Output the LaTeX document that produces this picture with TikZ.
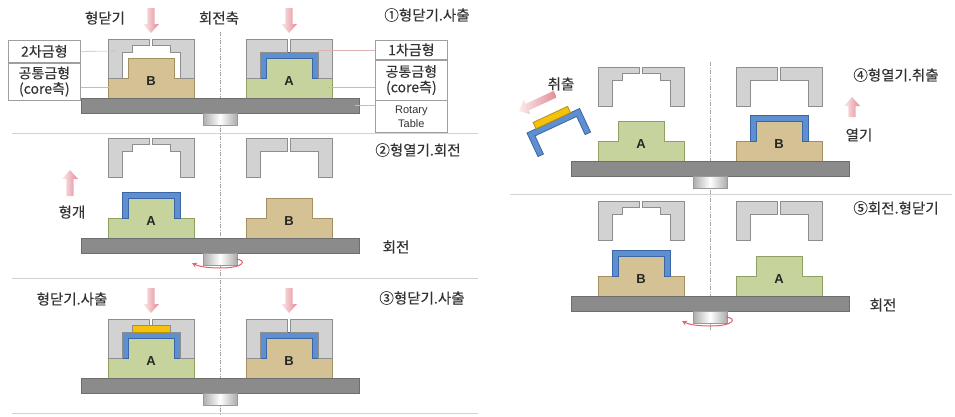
\documentclass[tikz,border=0pt]{standalone}
\usepackage{fontspec}
\newfontfamily\kr[FakeBold=0.25]{Noto Sans CJK KR}
\newfontfamily\lat{Liberation Sans}
\usetikzlibrary{arrows.meta,positioning}

\definecolor{moldfill}{HTML}{D2D2D2}
\definecolor{moldline}{HTML}{8E8E8E}
\definecolor{greenfill}{HTML}{C6D39C}
\definecolor{greenline}{HTML}{8FA063}
\definecolor{tanfill}{HTML}{D5C294}
\definecolor{tanline}{HTML}{A48F62}
\definecolor{bluefill}{HTML}{5D8FD1}
\definecolor{blueline}{HTML}{3B66A3}
\definecolor{yelfill}{HTML}{F4C20D}
\definecolor{yelline}{HTML}{B8900A}
\definecolor{platefill}{HTML}{8B8B8B}
\definecolor{plateline}{HTML}{6E6E6E}
\definecolor{txt}{HTML}{333333}
\definecolor{pinkarrow}{HTML}{E38C97}
\definecolor{pinkpale}{HTML}{FBEAEC}
\definecolor{leaderpink}{HTML}{DDB0B6}
\definecolor{turnred}{HTML}{E0606E}

\tikzset{
  mold/.style={fill=moldfill, draw=moldline, line width=0.8pt},
  coreA/.style={fill=greenfill, draw=greenline, line width=0.8pt},
  coreB/.style={fill=tanfill, draw=tanline, line width=0.8pt},
  shot1/.style={fill=bluefill, draw=blueline, line width=0.8pt},
  shot2/.style={fill=yelfill, draw=yelline, line width=0.8pt},
  plate/.style={fill=platefill, draw=plateline, line width=0.8pt},
  hub/.style={left color=gray!65, right color=gray!65, middle color=white, draw=gray!80, line width=0.6pt},
  turn/.style={draw=turnred, line width=1pt, -{Stealth[length=5pt,width=5pt]}},
  letter/.style={font=\lat\bfseries\fontsize{13}{13}\selectfont, text=black!85, inner sep=0pt},
  lbl/.style={font=\kr\fontsize{14.5}{16}\selectfont, text=txt, inner sep=1pt},
  lblbox/.style={draw=gray!75, fill=white, line width=0.7pt, minimum width=72pt, inner sep=1pt,
    align=center, font=\kr\fontsize{14}{15.5}\selectfont, text=txt},
  leader/.style={draw=leaderpink, line width=0.6pt},
  sep/.style={draw=gray!35, line width=0.8pt},
  axis/.style={draw=gray!70, line width=0.5pt, dash pattern=on 4pt off 1.5pt on 1pt off 1.5pt}
}

% upper mold, first-shot cavity: #1 left x, #2 top y
\newcommand{\moldone}[2]{%
  \filldraw[mold] (#1,#2) -- ({#1+41.5},#2) -- ({#1+41.5},{#2+13}) -- ({#1+14},{#2+13}) -- ({#1+14},{#2+39}) -- (#1,{#2+39}) -- cycle;
  \filldraw[mold] ({#1+44.5},#2) -- ({#1+86},#2) -- ({#1+86},{#2+39}) -- ({#1+72},{#2+39}) -- ({#1+72},{#2+13}) -- ({#1+44.5},{#2+13}) -- cycle;
}
% upper mold, second-shot cavity
\newcommand{\moldtwo}[2]{%
  \filldraw[mold] (#1,#2) -- ({#1+41.5},#2) -- ({#1+41.5},{#2+6}) -- ({#1+24},{#2+6}) -- ({#1+24},{#2+13}) -- ({#1+14},{#2+13}) -- ({#1+14},{#2+39}) -- (#1,{#2+39}) -- cycle;
  \filldraw[mold] ({#1+44.5},#2) -- ({#1+86},#2) -- ({#1+86},{#2+39}) -- ({#1+72},{#2+39}) -- ({#1+72},{#2+13}) -- ({#1+62},{#2+13}) -- ({#1+62},{#2+6}) -- ({#1+44.5},{#2+6}) -- cycle;
}
% core side: #1 left x, #2 base y, #3 style, #4 letter, #5 node name
\newcommand{\corepart}[5]{%
  \filldraw[#3] (#1,#2) -- (#1,{#2-20}) -- ({#1+20},{#2-20}) -- ({#1+20},{#2-40}) -- ({#1+66},{#2-40}) -- ({#1+66},{#2-20}) -- ({#1+86},{#2-20}) -- ({#1+86},#2) -- cycle;
  \node[letter] (#5) at ({#1+43},{#2-17}) {#4};
}
\newcommand{\shotone}[2]{%
  \filldraw[shot1] ({#1+14},{#2-20}) -- ({#1+14},{#2-46}) -- ({#1+72},{#2-46}) -- ({#1+72},{#2-20}) -- ({#1+66},{#2-20}) -- ({#1+66},{#2-40}) -- ({#1+20},{#2-40}) -- ({#1+20},{#2-20}) -- cycle;
}
\newcommand{\shottwo}[2]{\filldraw[shot2] ({#1+24},{#2-53}) rectangle ({#1+62},{#2-46});}
% rotary table with its hub: #1 axis x, #2 top y
\newcommand{\turntable}[2]{%
  \filldraw[plate] ({#1-139},#2) rectangle ({#1+139},{#2+15});
  \shade[hub] ({#1-17},{#2+15}) rectangle ({#1+17},{#2+27});
  \draw[draw=gray!80, line width=0.6pt] ({#1-17},{#2+15}) rectangle ({#1+17},{#2+27});
}
\newcommand{\turnarrow}[2]{%
  \draw[turn] ({#1+16},{#2+21}) .. controls ({#1+27},{#2+22}) and ({#1+25},{#2+30}) .. (#1,{#2+30})
    .. controls ({#1-14},{#2+30}) and ({#1-22},{#2+28}) .. ({#1-28},{#2+25});
}
% pink push arrow: #1 tip, #2 direction, #3 length
\newcommand{\pusharrow}[3]{%
  \begin{scope}[shift={(#1)},rotate=#2]
    \shade[left color=pinkpale, right color=pinkarrow] (-#3,-3.6) -- (-9,-3.6) -- (-9,-8) -- (0,0) -- (-9,8) -- (-9,3.6) -- (-#3,3.6) -- cycle;
  \end{scope}}

\begin{document}
\begin{tikzpicture}[x=1pt,y=-1pt]
\useasboundingbox (0,0) rectangle (955,416);

% separators and axes
\draw[sep] (12,133) -- (478,133);
\draw[sep] (12,278) -- (478,278);
\draw[sep] (12,413) -- (478,413);
\draw[sep] (510,194) -- (952,194);
\draw[axis] (220,32) -- (220,416);
\draw[axis] (710,62) -- (710,330);

% ---- 1: closed, injection
\corepart{108}{98}{coreB}{B}{b1}
\moldtwo{108}{39}
\corepart{246}{98}{coreA}{A}{a1}
\shotone{246}{98}
\moldone{246}{39}
\turntable{220}{98}
\pusharrow{151,33}{-90}{25}
\pusharrow{289,33}{-90}{25}
\node[lbl] (close1) at (105,18) {형닫기};
\node[lbl] (axislbl) at (219,18) {회전축};
\node[lbl] (step1) at (427,15) {①형닫기.사출};

\node[lblbox, minimum height=22pt, anchor=north west] (sec) at (8,40) {2차금형};
\node[lblbox, minimum height=37pt, below=0pt of sec] (comL) {공통금형\\(core측)};
\node[lblbox, minimum height=19pt, anchor=north west] (fst) at (375,40) {1차금형};
\node[lblbox, minimum height=40pt, below=0pt of fst] (comR) {공통금형\\(core측)};
\node[lblbox, minimum height=32pt, below=0pt of comR, font=\lat\fontsize{11}{14}\selectfont] (rot) {Rotary\\Table};
\coordinate (cavB) at (116,51);
\coordinate (baseB) at (112,87);
\coordinate (cavA) at (318,50);
\coordinate (baseA) at (328,87);
\coordinate (plateR) at (355,105);
\draw[leader] (sec.east) -- (cavB);
\draw[leader] (comL.east |- baseB) -- (baseB);
\draw[leader] (fst.west |- cavA) -- (cavA);
\draw[leader] (comR.west |- baseA) -- (baseA);
\draw[leader] (rot.west |- plateR) -- (plateR);

% ---- 2: open, rotate
\moldtwo{108}{138}
\moldone{246}{138}
\corepart{108}{238}{coreA}{A}{a2}
\shotone{108}{238}
\corepart{246}{238}{coreB}{B}{b2}
\turntable{220}{238}
\turnarrow{220}{238}
\pusharrow{70,170}{90}{26}
\node[lbl] (open2) at (72,212) {형개};
\node[lbl] (turn2) at (396,247) {회전};
\node[lbl] (step2) at (418,150) {②형열기.회전};

% ---- 3: closed, injection
\corepart{108}{378}{coreA}{A}{a3}
\shotone{108}{378}
\shottwo{108}{378}
\moldtwo{108}{319}
\corepart{246}{378}{coreB}{B}{b3}
\shotone{246}{378}
\moldone{246}{319}
\turntable{220}{378}
\pusharrow{151,313}{-90}{25}
\pusharrow{289,313}{-90}{25}
\node[lbl] (close3) at (72,299) {형닫기.사출};
\node[lbl] (step3) at (422,298) {③형닫기.사출};

% ---- 4: open, take out
\moldtwo{598}{67}
\moldone{736}{67}
\corepart{598}{161}{coreA}{A}{a4}
\corepart{736}{161}{coreB}{B}{b4}
\shotone{736}{161}
\turntable{710}{161}
\pusharrow{852,97}{90}{20}
\node[lbl] (open4) at (859,135) {열기};
\node[lbl] (step4) at (896,75) {④형열기.취출};
\begin{scope}[shift={(527,133)},rotate=25]
  \filldraw[shot1] (0,26) -- (0,0) -- (58,0) -- (58,26) -- (52,26) -- (52,6) -- (6,6) -- (6,26) -- cycle;
  \filldraw[shot2] (10,-7) rectangle (48,0);
\end{scope}
\pusharrow{519,111}{205}{40}
\node[lbl] (eject4) at (561,84) {취출};

% ---- 5: rotate, close
\moldtwo{598}{201}
\moldone{736}{201}
\corepart{598}{296}{coreB}{B}{b5}
\shotone{598}{296}
\corepart{736}{296}{coreA}{A}{a5}
\turntable{710}{296}
\turnarrow{710}{296}
\node[lbl] (turn5) at (883,305) {회전};
\node[lbl] (step5) at (896,208) {⑤회전.형닫기};
\end{tikzpicture}
\end{document}
